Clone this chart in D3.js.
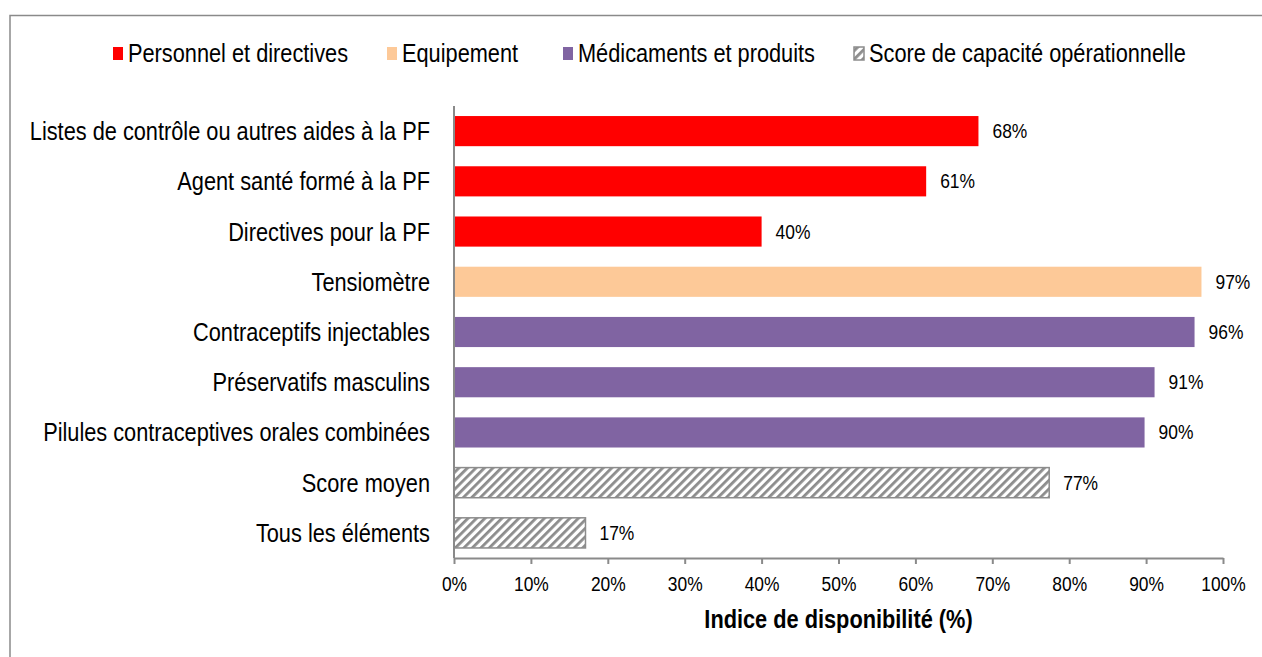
<!DOCTYPE html>
<html>
<head>
<meta charset="utf-8">
<script src="https://cdn.jsdelivr.net/npm/d3@7"></script>
<style>
  body { margin: 0; background: #fff; }
  svg { display: block; font-family: "Liberation Sans", Arial, sans-serif; }
</style>
</head>
<body>
<svg id="chart"></svg>
<script>
// Chart data
const categories = [
    "Listes de contrôle ou autres aides à la PF",
    "Agent santé formé à la PF",
    "Directives pour la PF",
    "Tensiomètre",
    "Contraceptifs injectables",
    "Préservatifs masculins",
    "Pilules contraceptives orales combinées",
    "Score moyen",
    "Tous les éléments"
];
const values = [68.2, 61.4, 40.0, 97.2, 96.3, 91.1, 89.8, 77.4, 17.1];
const groups = ["perso", "perso", "perso", "equip", "medic", "medic", "medic", "score", "score"];

const seriesKeys = ["perso", "equip", "medic", "score"];
const seriesNames = ["Personnel et directives", "Equipement", "Médicaments et produits", "Score de capacité opérationnelle"];
const xTicks = [0, 10, 20, 30, 40, 50, 60, 70, 80, 90, 100];

const width = 1262;
const height = 657;
const squeeze = 0.87; // text in the original is horizontally condensed
const svg = d3.select("#chart").attr("width", width).attr("height", height);

function condense(sel) {
    sel.each(function() {
        const len = this.getComputedTextLength();
        this.setAttribute("textLength", len * squeeze);
        this.setAttribute("lengthAdjust", "spacingAndGlyphs");
    });
}

// Hatch pattern for the score bars
const defs = svg.append("defs");
const pat = defs.append("pattern")
    .attr("id", "hatch")
    .attr("patternUnits", "userSpaceOnUse")
    .attr("width", 6)
    .attr("height", 6)
    .attr("patternTransform", "rotate(45)");
pat.append("rect").attr("width", 6).attr("height", 6).attr("fill", "#fff");
pat.append("rect").attr("width", 2.8).attr("height", 6).attr("fill", "#8c8c8c");

const fills = {
    perso: "#ff0000",
    equip: "#fdc998",
    medic: "#8064a2",
    score: "url(#hatch)"
};

// Outer frame
svg.append("path")
    .attr("d", `M10,${height} V15.5 H${width}`)
    .attr("fill", "none")
    .attr("stroke", "#8a8a8a")
    .attr("stroke-width", 1.5);

const x = d3.scaleLinear().domain([0, 100]).range([454, 1223]);
const y = d3.scaleBand().domain(categories).range([106, 558]).paddingInner(0.4).paddingOuter(0.2);

// Bars
svg.selectAll(".bar")
    .data(categories)
    .enter()
    .append("rect")
    .attr("class", "bar")
    .attr("x", x(0))
    .attr("y", d => y(d))
    .attr("width", (d, i) => x(values[i]) - x(0))
    .attr("height", y.bandwidth())
    .attr("fill", (d, i) => fills[groups[i]])
    .attr("stroke", (d, i) => groups[i] === "score" ? "#8c8c8c" : "none")
    .attr("stroke-width", 1.5);

// Value labels
svg.selectAll(".val")
    .data(categories)
    .enter()
    .append("text")
    .attr("class", "val")
    .attr("x", (d, i) => x(values[i]) + 14)
    .attr("y", d => y(d) + y.bandwidth() / 2 + 7)
    .attr("font-size", "20px")
    .attr("fill", "#000")
    .text((d, i) => Math.round(values[i]) + "%")
    .call(condense);

// Category labels
svg.selectAll(".cat")
    .data(categories)
    .enter()
    .append("text")
    .attr("class", "cat")
    .attr("x", 430)
    .attr("y", d => y(d) + y.bandwidth() / 2 + 9)
    .attr("text-anchor", "end")
    .attr("font-size", "25px")
    .attr("fill", "#000")
    .text(d => d)
    .call(condense);

// Axes lines
svg.append("line")
    .attr("x1", x(0)).attr("x2", x(0))
    .attr("y1", 106).attr("y2", 558)
    .attr("stroke", "#8a8a8a").attr("stroke-width", 2);

const xAxis = svg.append("g")
    .attr("transform", "translate(0,558)")
    .call(d3.axisBottom(x).tickValues(xTicks).tickSize(6).tickSizeOuter(0).tickFormat(d => d + "%"));
xAxis.select(".domain").attr("stroke", "#8a8a8a").attr("stroke-width", 2);
xAxis.selectAll(".tick line").attr("stroke", "#8a8a8a").attr("stroke-width", 2);
xAxis.selectAll(".tick text")
    .attr("font-family", "Liberation Sans, Arial, sans-serif")
    .attr("font-size", "20px")
    .attr("fill", "#000")
    .attr("dy", null)
    .attr("y", 33)
    .call(condense);

svg.append("text")
    .attr("x", (x(0) + x(100)) / 2)
    .attr("y", 628)
    .attr("text-anchor", "middle")
    .attr("font-size", "25px")
    .attr("font-weight", "bold")
    .attr("fill", "#000")
    .text("Indice de disponibilité (%)")
    .call(condense);

// Legend
const legendTextX = [128, 402, 578, 869];
const legend = svg.selectAll(".legend")
    .data(seriesKeys)
    .enter()
    .append("g")
    .attr("class", "legend")
    .attr("transform", (d, i) => `translate(${legendTextX[i]},0)`);

legend.append("rect")
    .attr("x", -15)
    .attr("y", 47)
    .attr("width", 10)
    .attr("height", 13)
    .attr("fill", d => d === "score" ? "url(#hatch)" : fills[d])
    .attr("stroke", d => d === "score" ? "#8c8c8c" : "none")
    .attr("stroke-width", 1.5);

legend.append("text")
    .attr("x", 0)
    .attr("y", 62)
    .attr("font-size", "25px")
    .attr("fill", "#000")
    .text((d, i) => seriesNames[i])
    .call(condense);
</script>
</body>
</html>
